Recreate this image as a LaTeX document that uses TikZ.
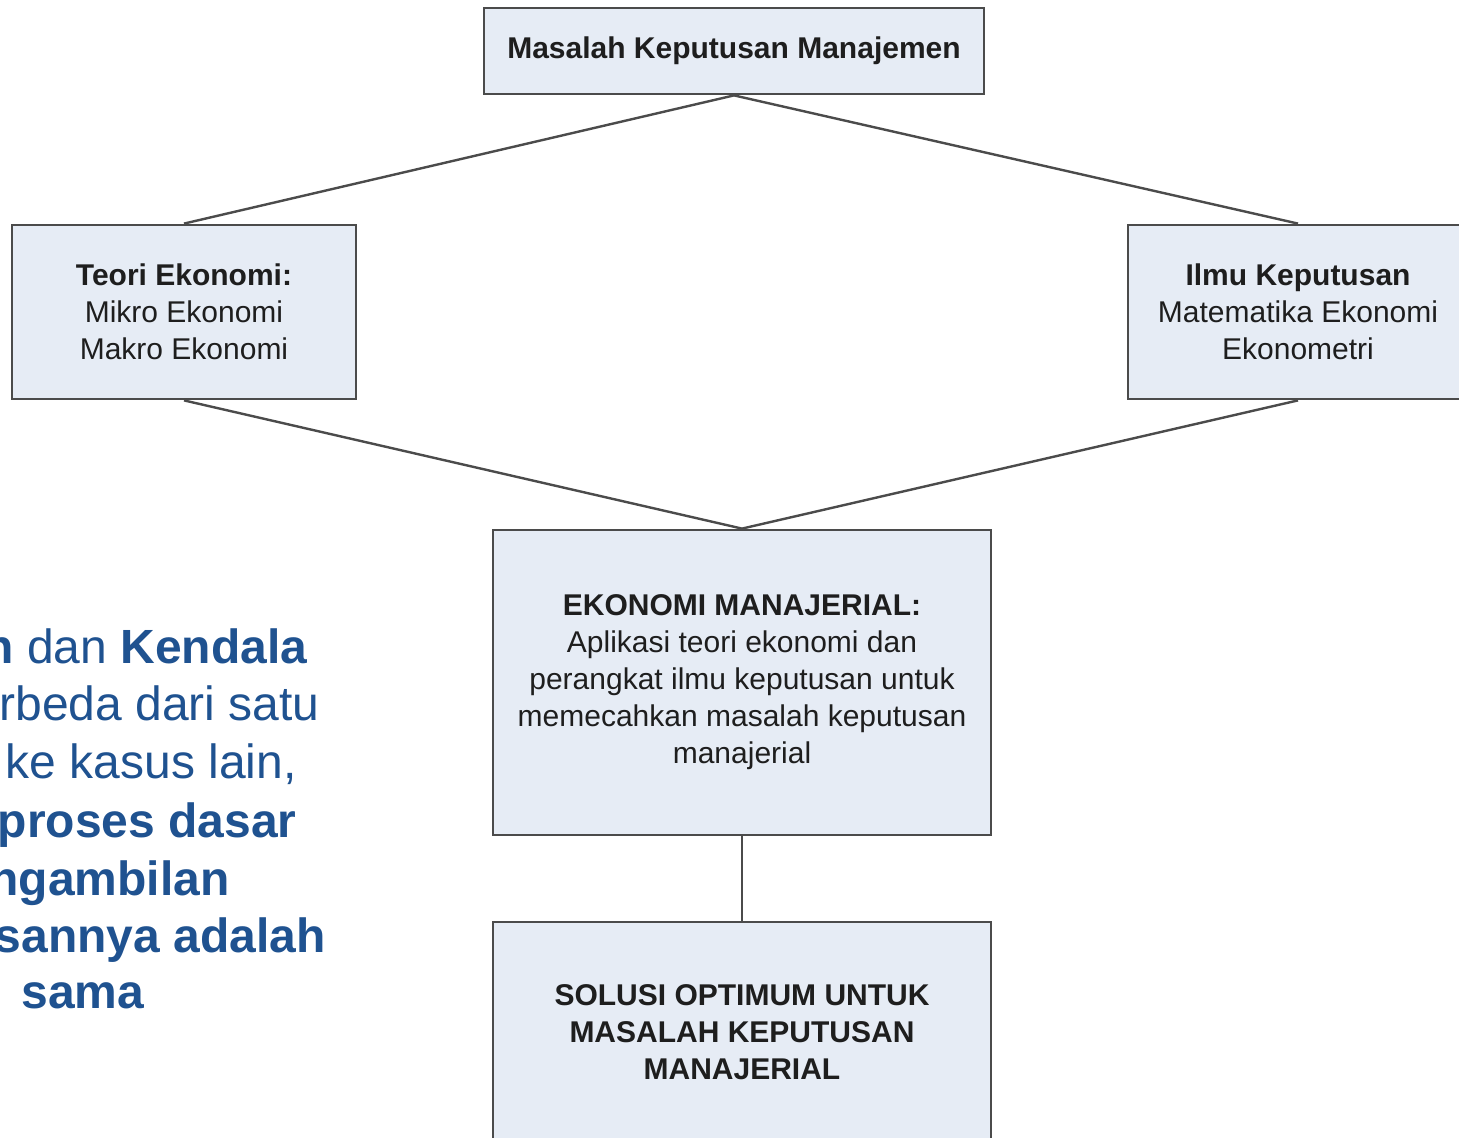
\documentclass[tikz,border=0pt]{standalone}
\usepackage{fontspec}
\setmainfont{Liberation Sans}
\definecolor{boxfill}{RGB}{230,236,245}
\definecolor{boxline}{RGB}{75,75,75}
\definecolor{txtgray}{RGB}{30,30,30}
\definecolor{sideblue}{RGB}{31,82,144}
\tikzset{
  box/.style={draw=boxline, line width=1.4pt, fill=boxfill, inner sep=0pt,
    align=center, text=txtgray, font=\fontsize{15}{18.5}\selectfont},
  link/.style={draw=boxline, line width=1.2pt},
  sidetext/.style={anchor=base east, inner sep=0pt, text=sideblue,
    font=\fontsize{24}{28}\selectfont},
}
\begin{document}
\begin{tikzpicture}[x=0.5pt,y=0.5pt,yscale=-1,xscale=1]
\useasboundingbox (0,0) rectangle (1459,1138);
\clip (0,0) rectangle (1459,1138);

%Shape: Rectangle [masalah]
\node (masalah) at (734,51) [box, minimum width=250pt, minimum height=43pt] {\textbf{Masalah Keputusan Manajemen}};
%Shape: Rectangle [teori]
\node (teori) at (184,312) [box, minimum width=172pt, minimum height=87pt] {\textbf{Teori Ekonomi:}\\Mikro Ekonomi\\Makro Ekonomi};
%Shape: Rectangle [ilmu]
\node (ilmu) at (1298,312) [box, minimum width=170pt, minimum height=87pt] {\textbf{Ilmu Keputusan}\\Matematika Ekonomi\\Ekonometri};
%Shape: Rectangle [ekman]
\node (ekman) at (742,682.5) [box, minimum width=249pt, minimum height=152.5pt] {\textbf{EKONOMI MANAJERIAL:}\\Aplikasi teori ekonomi dan\\perangkat ilmu keputusan untuk\\memecahkan masalah keputusan\\manajerial};
%Shape: Rectangle [solusi]
\node (solusi) at (742,1032) [box, minimum width=249pt, minimum height=110pt] {\textbf{SOLUSI OPTIMUM UNTUK}\\\textbf{MASALAH KEPUTUSAN}\\\textbf{MANAJERIAL}};

%Straight Lines
\draw [link] (masalah.south) -- (teori.north);
\draw [link] (masalah.south) -- (ilmu.north);
\draw [link] (teori.south) -- (ekman.north);
\draw [link] (ilmu.south) -- (ekman.north);
\draw [link] (ekman.south) -- (solusi.north);

% Text Node
\node (side1) at (308,663) [sidetext] {\textbf{n} dan \textbf{Kendala}};
% Text Node
\node (side2) at (320,720) [sidetext] {rbeda dari satu};
% Text Node
\node (side3) at (297,778) [sidetext] {ke kasus lain,};
% Text Node
\node (side4) at (297,837) [sidetext] {\textbf{proses dasar}};
% Text Node
\node (side5) at (230,895) [sidetext] {\textbf{ngambilan}};
% Text Node
\node (side6) at (326,952) [sidetext] {\textbf{sannya adalah}};
% Text Node
\node (side7) at (145,1008) [sidetext] {\textbf{sama}};

\end{tikzpicture}
\end{document}
